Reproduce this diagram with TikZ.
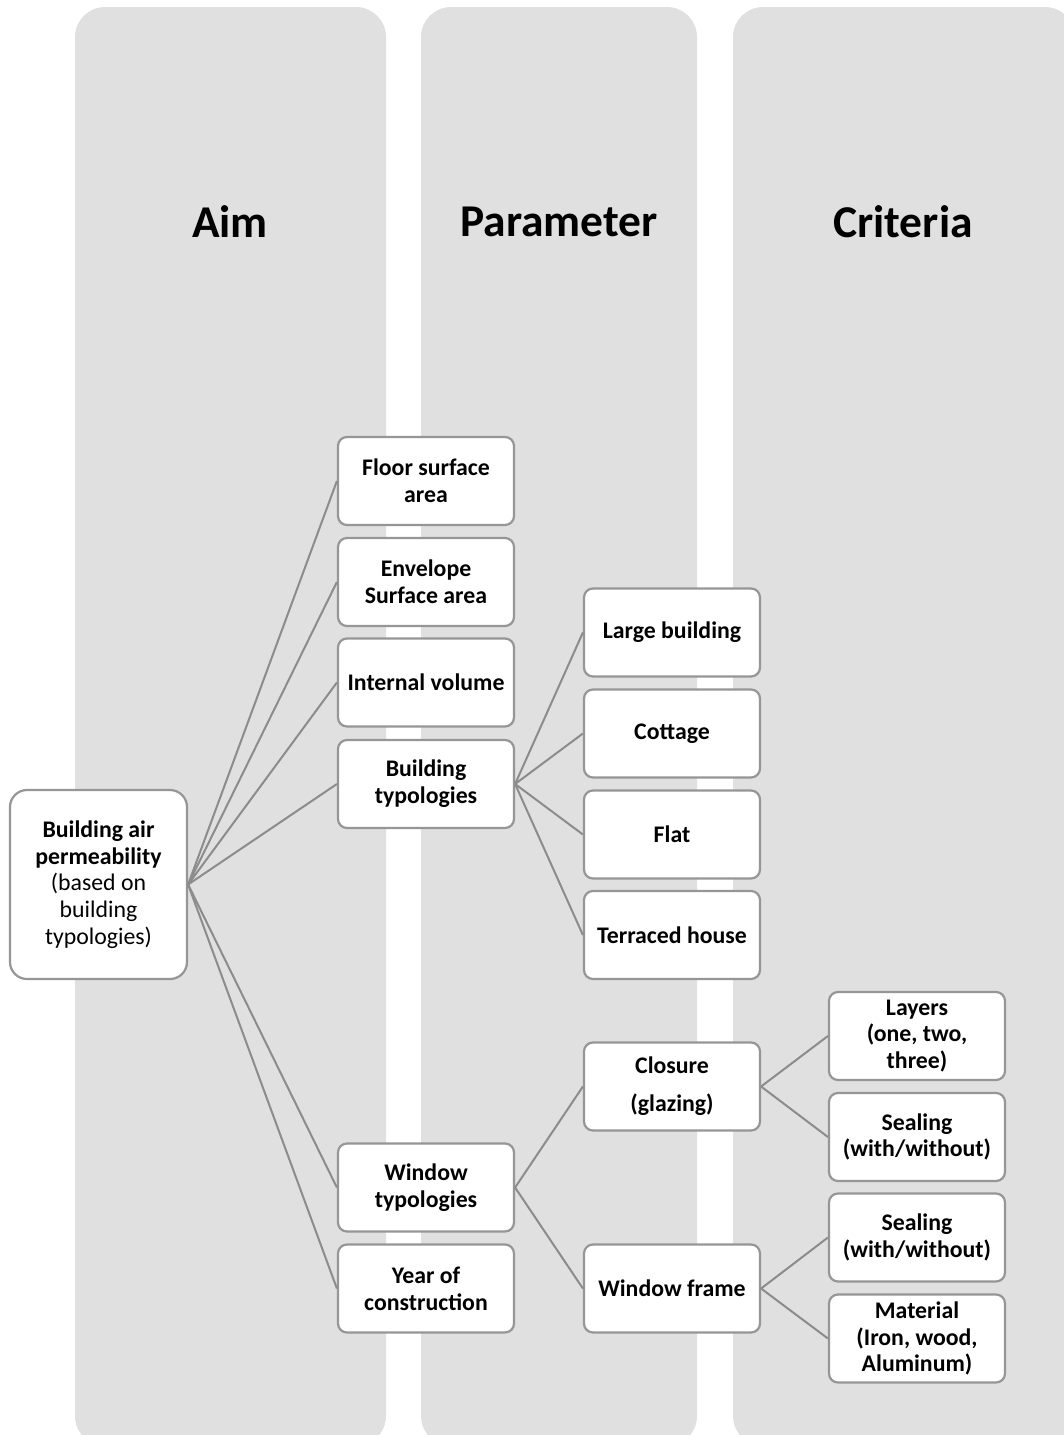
\documentclass[tikz,border=0pt]{standalone}
\usepackage{fontspec}
\setmainfont{Carlito}
\definecolor{colbg}{RGB}{224,224,224}
\definecolor{boxline}{RGB}{150,150,150}
\definecolor{linkc}{RGB}{140,140,140}
\begin{document}
\begin{tikzpicture}[x=1pt,y=-1pt,
  colbox/.style={fill=colbg,draw=none,rounded corners=30pt},
  coltitle/.style={font=\fontsize{45.5}{50}\selectfont\bfseries,anchor=center},
  item/.style={draw=boxline,line width=2.2pt,fill=white,rounded corners=9pt,
    minimum width=176pt,minimum height=88pt,align=center,inner sep=0pt,
    font=\fontsize{23.8}{26.8}\selectfont\bfseries},
  link/.style={draw=linkc,line width=2pt}]
\useasboundingbox (0,0) rectangle (1064,1435);
% columns
\path[colbox] (75,7) rectangle (386,1446);
\path[colbox] (421,7) rectangle (697,1446);
\path[colbox] (733,7) rectangle (1075,1446);
\node[coltitle] (tAim) at (230,222) {Aim};
\node[coltitle] (tPar) at (559,222) {Parameter};
\node[coltitle] (tCri) at (903,222) {Criteria};
% root
\node[item,minimum width=177pt,minimum height=189pt,rounded corners=17pt] (root) at (98.5,884.5)
  {Building air\\permeability\\\mdseries (based on\\\mdseries building\\\mdseries typologies)};
% level 1
\node[item] (floor) at (426,481) {Floor surface\\area};
\node[item] (env) at (426,582) {Envelope\\Surface area};
\node[item] (vol) at (426,682.5) {Internal volume};
\node[item] (btyp) at (426,784) {Building\\typologies};
\node[item] (wtyp) at (426,1187.5) {Window\\typologies};
\node[item] (year) at (426,1288.5) {Year of\\construction};
% level 2
\node[item] (large) at (672,632.5) {Large building};
\node[item] (cott) at (672,733.5) {Cottage};
\node[item] (flat) at (672,834.5) {Flat};
\node[item] (terr) at (672,935) {Terraced house};
\node[item] (clos) at (672,1086.5) {Closure\\[11pt](glazing)};
\node[item] (frame) at (672,1288.5) {Window frame};
% level 3
\node[item] (layers) at (917,1036) {Layers\\(one, two,\\three)};
\node[item] (seal1) at (917,1137) {Sealing\\(with/without)};
\node[item] (seal2) at (917,1237.5) {Sealing\\(with/without)};
\node[item] (mat) at (917,1338.5) {Material\\(Iron, wood,\\Aluminum)};
% links
\foreach \t in {floor,env,vol,btyp,wtyp,year} \draw[link] (root.east) -- (\t.west);
\foreach \t in {large,cott,flat,terr} \draw[link] (btyp.east) -- (\t.west);
\foreach \t in {clos,frame} \draw[link] (wtyp.east) -- (\t.west);
\foreach \t in {layers,seal1} \draw[link] (clos.east) -- (\t.west);
\foreach \t in {seal2,mat} \draw[link] (frame.east) -- (\t.west);
\end{tikzpicture}
\end{document}
